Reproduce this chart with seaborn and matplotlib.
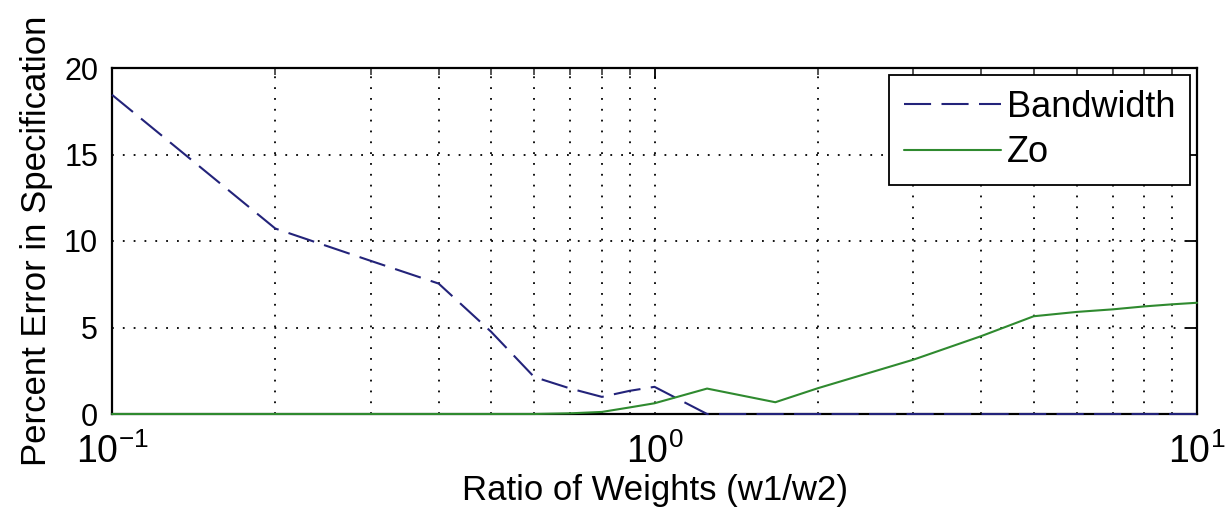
import numpy as np
import pandas as pd
import matplotlib
matplotlib.use("Agg")
import matplotlib.pyplot as plt
import seaborn as sns
from matplotlib.ticker import LogLocator, NullFormatter, FuncFormatter

ratio = [0.1, 0.2, 0.3, 0.4, 0.5, 0.6, 0.7, 0.8, 0.9, 1.0, 1.25, 1.67,
         2, 3, 4, 5, 6, 7, 8, 9, 10]
bandwidth = [18.45, 10.72, 8.85, 7.54, 4.75, 2.14, 1.47, 0.99, 1.34, 1.57, 0.0, 0.0,
             0, 0, 0, 0, 0, 0, 0, 0, 0]
zo = [0, 0, 0, 0, 0, 0, 0.04, 0.12, 0.38, 0.62, 1.47, 0.68,
      1.49, 3.14, 4.5, 5.65, 5.9, 6.05, 6.22, 6.34, 6.43]
series_names = ["Bandwidth", "Zo"]
yticks = [0, 5, 10, 15, 20]

sns.set_style("white")
plt.rcParams["font.family"] = ["Liberation Sans", "DejaVu Sans"]
plt.rcParams["mathtext.fontset"] = "custom"
plt.rcParams["mathtext.rm"] = "Liberation Sans"
plt.rcParams["mathtext.it"] = "Liberation Sans"
plt.rcParams["mathtext.default"] = "regular"
plt.rcParams["text.color"] = "black"
plt.rcParams["axes.labelcolor"] = "black"

fig = plt.figure(figsize=(12.28, 5.29), dpi=100)
ax = fig.add_axes([112/1228, 1 - 414/529, (1197-112)/1228, (414-68)/529])

sns.lineplot(x=ratio, y=bandwidth, ax=ax, color="#23237a", linewidth=1.5,
             linestyle=(0, (13, 5)), label=series_names[0], clip_on=False, zorder=3)
sns.lineplot(x=ratio, y=zo, ax=ax, color="#2f8a2f", linewidth=1.5,
             label=series_names[1], clip_on=False, zorder=3)

ax.set_xscale("log")
ax.set_xlim(0.1, 10)
ax.set_ylim(0, 20)
ax.set_yticks(yticks)
ax.xaxis.set_major_locator(LogLocator(base=10))
ax.xaxis.set_minor_locator(LogLocator(base=10, subs=np.arange(2, 10)))
ax.xaxis.set_minor_formatter(NullFormatter())
ax.xaxis.set_major_formatter(FuncFormatter(
    lambda v, p: r"$\mathregular{10^{%d}}$" % int(round(np.log10(v)))))

ax.grid(True, which="major", axis="both", linestyle=(0, (1, 5)), color="black", linewidth=1.3)
ax.grid(True, which="minor", axis="x", linestyle=(0, (1, 5)), color="black", linewidth=1.3)

for s in ax.spines.values():
    s.set_color("black")
    s.set_linewidth(1.6)
ax.tick_params(which="major", direction="in", length=8, width=1.3, top=True, right=True,
               colors="black")
ax.tick_params(which="minor", direction="in", length=5, width=1.1, top=True, right=True)
ax.tick_params(axis="y", which="major", labelsize=22, pad=10)
ax.tick_params(axis="x", which="major", labelsize=27, pad=14)

ax.set_xlabel("Ratio of Weights (w1/w2)", fontsize=25, labelpad=2)
ax.set_ylabel("Percent Error in Specification", fontsize=25, labelpad=8)

leg = ax.legend(loc="upper right", fontsize=26, frameon=True, fancybox=False,
                edgecolor="black", framealpha=1, handlelength=2.7, handletextpad=0.15,
                borderpad=0.4, labelspacing=0.3, borderaxespad=0.2)
leg.get_frame().set_linewidth(1.3)

fig.savefig("out.png", dpi=100)
